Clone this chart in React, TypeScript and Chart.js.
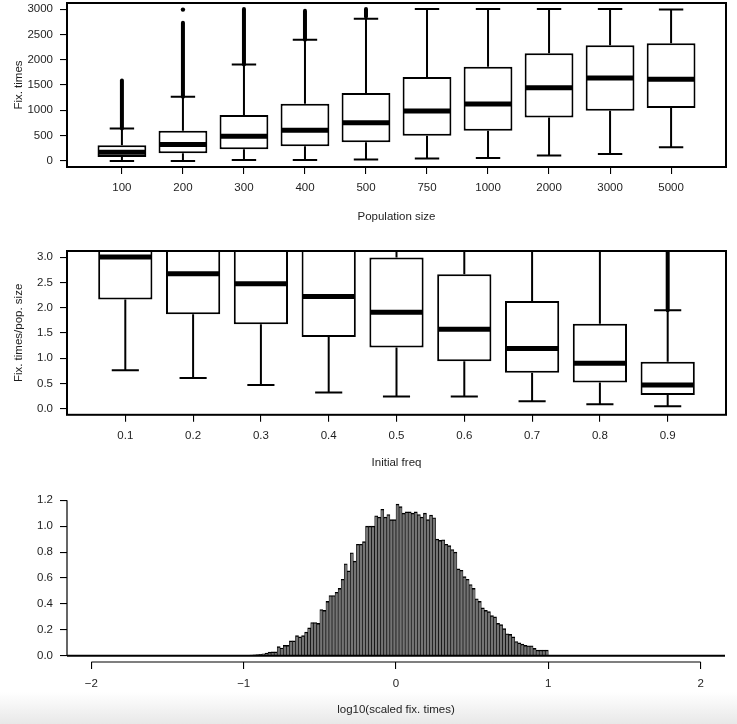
import React, { useEffect, useRef } from 'react';
import { Chart, registerables } from 'chart.js';

Chart.register(...registerables);

const FONT_FAMILY = '"Liberation Sans", Arial, Helvetica, sans-serif';
Chart.defaults.font.family = FONT_FAMILY;
Chart.defaults.font.size = 11.5;
Chart.defaults.color = '#1e1e1e';

// ---------- Panel 1: fixation times by population size ----------
const POP_LABELS = ['100', '200', '300', '400', '500', '750', '1000', '2000', '3000', '5000'];
const POP_LOW = [0, 0, 20, 20, 26, 46, 59, 106, 139, 271];
const POP_Q1 = [79, 152, 231, 291, 370, 496, 595, 859, 991, 1044];
const POP_MEDIAN = [170, 324, 489, 608, 753, 985, 1123, 1447, 1639, 1612];
const POP_Q3 = [310, 595, 905, 1130, 1341, 1659, 1863, 2128, 2286, 2326];
const POP_HIGH = [640, 1270, 1903, 2392, 2808, 3000, 3000, 3000, 3000, 2990];
const POP_OUT_FROM = [640, 1270, 1903, 2392, 2850, null, null, null, null, null];
const POP_OUT_TO = [1590, 2730, 3000, 2965, 3000, null, null, null, null, null];
const POP_OUT_POINTS = [[], [2990], [], [], [], [], [], [], [], []];
const POP_Y_TICKS = [0, 500, 1000, 1500, 2000, 2500, 3000];

// ---------- Panel 2: scaled fixation times by initial frequency ----------
const FREQ_LABELS = ['0.1', '0.2', '0.3', '0.4', '0.5', '0.6', '0.7', '0.8', '0.9'];
const FREQ_LOW = [0.76, 0.61, 0.47, 0.32, 0.24, 0.24, 0.15, 0.09, 0.05];
const FREQ_Q1 = [2.16, 1.87, 1.67, 1.42, 1.21, 0.94, 0.71, 0.52, 0.27];
const FREQ_MEDIAN = [3.0, 2.67, 2.47, 2.22, 1.91, 1.57, 1.19, 0.9, 0.47];
const FREQ_Q3 = [3.9, 3.6, 3.4, 3.2, 2.99, 2.66, 2.13, 1.68, 0.93];
const FREQ_HIGH = [7.5, 7.0, 6.6, 6.0, 5.5, 5.0, 4.3, 3.4, 1.95];
const FREQ_OUT_FROM = [null, null, null, null, null, null, null, null, 1.95];
const FREQ_OUT_TO = [null, null, null, null, null, null, null, null, 8.0];
const FREQ_OUT_POINTS = [[], [], [], [], [], [], [], [], []];
const FREQ_Y_TICKS = [0, 0.5, 1, 1.5, 2, 2.5, 3];

// ---------- Panel 3: histogram of log10(scaled fixation times) ----------
const HIST_BIN_START = -1.0;
const HIST_BIN_WIDTH = 0.02;
const HIST_DENSITY = [
  0.003, 0.003, 0.005, 0.007, 0.009, 0.012, 0.015, 0.02, 0.028, 0.03,
  0.03, 0.07, 0.06, 0.08, 0.08, 0.115, 0.115, 0.155, 0.146, 0.156,
  0.183, 0.215, 0.257, 0.257, 0.25, 0.357, 0.35, 0.42, 0.465, 0.465,
  0.49, 0.52, 0.59, 0.71, 0.655, 0.795, 0.73, 0.86, 0.86, 0.88,
  1.0, 1.0, 1.0, 1.08, 1.07, 1.13, 1.07, 1.09, 1.05, 1.05,
  1.17, 1.15, 1.1, 1.11, 1.11, 1.1, 1.11, 1.09, 1.07, 1.1,
  1.05, 1.085, 1.065, 0.9, 0.89, 0.895, 0.86, 0.85, 0.82, 0.8,
  0.67, 0.66, 0.61, 0.59, 0.55, 0.52, 0.44, 0.42, 0.37, 0.35,
  0.34, 0.31, 0.3, 0.25, 0.24, 0.21, 0.17, 0.165, 0.146, 0.11,
  0.1, 0.09, 0.08, 0.077, 0.077, 0.057, 0.044, 0.044, 0.044, 0.044,
];
const HIST_X_TICKS = [-2, -1, 0, 1, 2];
const HIST_X_LABELS = ['\u22122', '\u22121', '0', '1', '2'];
const HIST_Y_TICKS = [0, 0.2, 0.4, 0.6, 0.8, 1.0, 1.2];

// ---------- styling helpers ----------
const BOX_HALF = 0.4;
const STAPLE_HALF = 0.2;

const tickGrid = { drawOnChartArea: false, drawTicks: true, tickLength: 7, color: '#000', lineWidth: 1.1 };

const noScalePadding = (sc: any) => {
  sc.paddingTop = 0;
  sc.paddingBottom = 0;
  sc.paddingLeft = 0;
  sc.paddingRight = 0;
};

function boxExtras(s: any) {
  const clipArea = (ctx: any, a: any) => {
    ctx.beginPath();
    ctx.rect(a.left, a.top, a.right - a.left, a.bottom - a.top);
    ctx.clip();
  };
  return {
    id: 'boxExtras',
    beforeDatasetsDraw(chart: any) {
      const { ctx, chartArea: a, scales } = chart;
      const x = scales.x, y = scales.y;
      ctx.save();
      clipArea(ctx, a);
      ctx.strokeStyle = '#000';
      ctx.lineWidth = 2;
      ctx.lineCap = 'butt';
      s.median.forEach((_: number, i: number) => {
        const cx = x.getPixelForValue(i + 1);
        const half = x.getPixelForValue(i + 1 + STAPLE_HALF) - cx;
        const pHi = y.getPixelForValue(s.high[i]);
        const pLo = y.getPixelForValue(s.low[i]);
        ctx.beginPath();
        ctx.moveTo(cx, y.getPixelForValue(s.q3[i]));
        ctx.lineTo(cx, pHi);
        ctx.moveTo(cx, y.getPixelForValue(s.q1[i]));
        ctx.lineTo(cx, pLo);
        ctx.moveTo(cx - half, pHi);
        ctx.lineTo(cx + half, pHi);
        ctx.moveTo(cx - half, pLo);
        ctx.lineTo(cx + half, pLo);
        ctx.stroke();
      });
      ctx.restore();
    },
    afterDatasetsDraw(chart: any) {
      const { ctx, chartArea: a, scales } = chart;
      const x = scales.x, y = scales.y;
      ctx.save();
      clipArea(ctx, a);
      ctx.strokeStyle = '#000';
      ctx.fillStyle = '#000';
      s.median.forEach((m: number, i: number) => {
        const cx = x.getPixelForValue(i + 1);
        const half = x.getPixelForValue(i + 1 + BOX_HALF) - cx;
        const pm = y.getPixelForValue(m);
        ctx.lineWidth = 5;
        ctx.lineCap = 'butt';
        ctx.beginPath();
        ctx.moveTo(cx - half + 1, pm);
        ctx.lineTo(cx + half - 1, pm);
        ctx.stroke();
        if (s.outFrom[i] != null && s.outTo[i] != null) {
          ctx.lineWidth = 4;
          ctx.lineCap = 'round';
          ctx.beginPath();
          ctx.moveTo(cx, y.getPixelForValue(s.outFrom[i]));
          ctx.lineTo(cx, y.getPixelForValue(s.outTo[i]));
          ctx.stroke();
        }
        (s.outPoints[i] || []).forEach((v: number) => {
          ctx.beginPath();
          ctx.arc(cx, y.getPixelForValue(v), 2.2, 0, Math.PI * 2);
          ctx.fill();
        });
      });
      ctx.restore();
    },
    afterDraw(chart: any) {
      const { ctx, chartArea: a } = chart;
      ctx.save();
      ctx.strokeStyle = '#000';
      ctx.lineWidth = 2;
      ctx.strokeRect(a.left, a.top, a.right - a.left, a.bottom - a.top);
      ctx.restore();
    },
  };
}

function boxConfig(opts: any) {
  const { labels, low, q1, median, q3, high, outFrom, outTo, outPoints, yTicks, yMin, yMax, yFmt, xTitle, yTitle, padTop, xHeight, xTickPad, xTitlePad } = opts;
  const n = labels.length;
  return {
    type: 'bar',
    data: {
      datasets: [
        {
          data: labels.map((_: string, i: number) => ({ x: i + 1, y: [q1[i], q3[i]] })),
          backgroundColor: '#ffffff',
          borderColor: '#000000',
          borderWidth: 2,
          borderSkipped: false,
          barPercentage: 2 * BOX_HALF,
          categoryPercentage: 1,
          clip: 0,
        },
      ],
    },
    options: {
      animation: false,
      responsive: false,
      devicePixelRatio: 1,
      layout: { padding: { top: padTop, right: 11, left: 0, bottom: 0 } },
      plugins: { legend: { display: false }, tooltip: { enabled: false } },
      scales: {
        x: {
          type: 'linear',
          min: 0.5 - 0.04 * n,
          max: n + 0.5 + 0.04 * n,
          bounds: 'data',
          offset: false,
          afterBuildTicks: (sc: any) => {
            sc.ticks = labels.map((_: string, i: number) => ({ value: i + 1 }));
          },
          afterFit: (sc: any) => {
            sc.height = xHeight;
            noScalePadding(sc);
          },
          ticks: { padding: xTickPad, autoSkip: false, maxRotation: 0, minRotation: 0, callback: (_v: any, i: number) => labels[i] },
          grid: { ...tickGrid, offset: false },
          border: { display: false },
          title: { display: true, text: xTitle, padding: { top: 0, bottom: xTitlePad } },
        },
        y: {
          type: 'linear',
          min: yMin,
          max: yMax,
          bounds: 'data',
          afterBuildTicks: (sc: any) => {
            sc.ticks = yTicks.map((v: number) => ({ value: v }));
          },
          afterFit: (sc: any) => {
            sc.width = 67;
            noScalePadding(sc);
          },
          ticks: { padding: 7, callback: yFmt },
          grid: { ...tickGrid },
          border: { display: false },
          title: { display: true, text: yTitle, padding: { top: 12, bottom: 0 } },
        },
      },
    },
    plugins: [boxExtras({ low, q1, median, q3, high, outFrom, outTo, outPoints })],
  };
}

const histAxes = {
  id: 'histAxes',
  afterDatasetsDraw(chart: any) {
    const { ctx, chartArea: a, scales } = chart;
    const y0 = scales.y.getPixelForValue(0);
    ctx.save();
    ctx.strokeStyle = '#000';
    ctx.lineWidth = 2;
    ctx.beginPath();
    ctx.moveTo(a.left, y0);
    ctx.lineTo(a.right, y0);
    ctx.stroke();
    ctx.restore();
  },
  afterDraw(chart: any) {
    const { ctx, chartArea: a, scales } = chart;
    const x = scales.x, y = scales.y;
    ctx.save();
    ctx.strokeStyle = '#000';
    ctx.lineWidth = 1.2;
    ctx.beginPath();
    ctx.moveTo(a.left, y.getPixelForValue(HIST_Y_TICKS[0]));
    ctx.lineTo(a.left, y.getPixelForValue(HIST_Y_TICKS[HIST_Y_TICKS.length - 1]));
    ctx.moveTo(x.getPixelForValue(HIST_X_TICKS[0]), a.bottom);
    ctx.lineTo(x.getPixelForValue(HIST_X_TICKS[HIST_X_TICKS.length - 1]), a.bottom);
    ctx.stroke();
    ctx.restore();
  },
};

function histConfig() {
  return {
    type: 'bar',
    data: {
      datasets: [
        {
          data: HIST_DENSITY.map((v, i) => ({ x: HIST_BIN_START + HIST_BIN_WIDTH * (i + 0.5), y: v })),
          backgroundColor: '#747474',
          borderColor: '#000000',
          borderWidth: { top: 1.4, left: 0.65, right: 0.65, bottom: 0 },
          borderSkipped: false,
          barPercentage: 1,
          categoryPercentage: 1,
          clip: 0,
        },
      ],
    },
    options: {
      animation: false,
      responsive: false,
      devicePixelRatio: 1,
      layout: { padding: { top: 14, right: 12, left: 0, bottom: 0 } },
      plugins: { legend: { display: false }, tooltip: { enabled: false } },
      scales: {
        x: {
          type: 'linear',
          min: -2.16,
          max: 2.16,
          bounds: 'data',
          offset: false,
          afterBuildTicks: (sc: any) => {
            sc.ticks = HIST_X_TICKS.map((v) => ({ value: v }));
          },
          afterFit: (sc: any) => {
            sc.height = 62;
            noScalePadding(sc);
          },
          ticks: { padding: 8, autoSkip: false, maxRotation: 0, minRotation: 0, callback: (_v: any, i: number) => HIST_X_LABELS[i] },
          grid: { ...tickGrid, offset: false },
          border: { display: false },
          title: { display: true, text: 'log10(scaled fix. times)', padding: { top: 0, bottom: 7 } },
        },
        y: {
          type: 'linear',
          min: -0.048,
          max: 1.248,
          bounds: 'data',
          afterBuildTicks: (sc: any) => {
            sc.ticks = HIST_Y_TICKS.map((v) => ({ value: v }));
          },
          afterFit: (sc: any) => {
            sc.width = 67;
            noScalePadding(sc);
          },
          ticks: { padding: 7, callback: (v: number) => Number(v).toFixed(1) },
          grid: { ...tickGrid },
          border: { display: false },
        },
      },
    },
    plugins: [histAxes],
  };
}

function useChart(makeConfig: () => any) {
  const ref = useRef<HTMLCanvasElement | null>(null);
  useEffect(() => {
    if (!ref.current) return;
    const chart = new Chart(ref.current, makeConfig());
    return () => chart.destroy();
  }, []);
  return ref;
}

export default function App() {
  const popRef = useChart(() =>
    boxConfig({
      labels: POP_LABELS,
      low: POP_LOW,
      q1: POP_Q1,
      median: POP_MEDIAN,
      q3: POP_Q3,
      high: POP_HIGH,
      outFrom: POP_OUT_FROM,
      outTo: POP_OUT_TO,
      outPoints: POP_OUT_POINTS,
      yTicks: POP_Y_TICKS,
      yMin: -120,
      yMax: 3120,
      yFmt: (v: number) => String(v),
      xTitle: 'Population size',
      yTitle: 'Fix. times',
      padTop: 3,
      xHeight: 65,
      xTickPad: 7,
      xTitlePad: 8,
    })
  );
  const freqRef = useChart(() =>
    boxConfig({
      labels: FREQ_LABELS,
      low: FREQ_LOW,
      q1: FREQ_Q1,
      median: FREQ_MEDIAN,
      q3: FREQ_Q3,
      high: FREQ_HIGH,
      outFrom: FREQ_OUT_FROM,
      outTo: FREQ_OUT_TO,
      outPoints: FREQ_OUT_POINTS,
      yTicks: FREQ_Y_TICKS,
      yMin: -0.12,
      yMax: 3.12,
      yFmt: (v: number) => Number(v).toFixed(1),
      xTitle: 'Initial freq',
      yTitle: 'Fix. times/pop. size',
      padTop: 19,
      xHeight: 65.2,
      xTickPad: 7.3,
      xTitlePad: 10,
    })
  );
  const histRef = useChart(histConfig);

  return (
    <div
      style={{
        position: 'absolute',
        left: 0,
        top: 0,
        width: 737,
        height: 724,
        overflow: 'hidden',
        background: 'linear-gradient(to bottom, #ffffff 0px, #ffffff 692px, #e8e8e8 724px)',
      }}
    >
      <canvas ref={popRef} width={737} height={232} style={{ position: 'absolute', left: 0, top: 0 }} />
      <canvas ref={freqRef} width={737} height={248} style={{ position: 'absolute', left: 0, top: 232 }} />
      <canvas ref={histRef} width={737} height={244} style={{ position: 'absolute', left: 0, top: 480 }} />
    </div>
  );
}
